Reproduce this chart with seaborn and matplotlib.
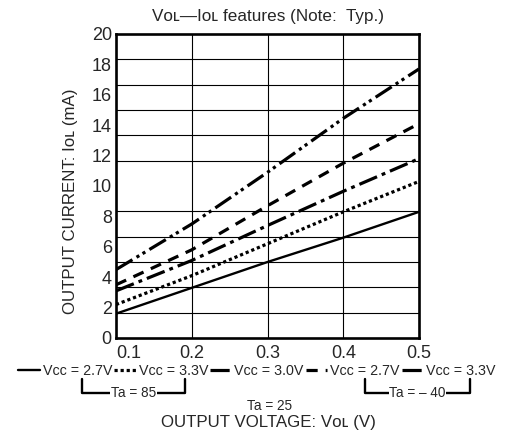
import numpy as np
import pandas as pd
import matplotlib
matplotlib.use("Agg")
import matplotlib.pyplot as plt
from matplotlib.lines import Line2D
import seaborn as sns

sns.set_theme(style="white")
plt.rcParams['font.family'] = ['Liberation Sans', 'DejaVu Sans']

# ---- data ----
vol = [0.1, 0.2, 0.3, 0.4, 0.5]
iol_27_85 = [1.6, 3.3, 5.0, 6.6, 8.3]
iol_33_85 = [2.2, 4.1, 6.2, 8.3, 10.3]
iol_30_25 = [3.1, 5.1, 7.4, 9.65, 11.8]
iol_27_m40 = [3.5, 5.8, 8.7, 11.5, 14.1]
iol_33_m40 = [4.5, 7.5, 10.9, 14.45, 17.7]

series_keys = ["2.7V_85", "3.3V_85", "3.0V_25", "2.7V_-40", "3.3V_-40"]
series_labels = ["Vᴄᴄ = 2.7V", "Vᴄᴄ = 3.3V", "Vᴄᴄ = 3.0V", "Vᴄᴄ = 2.7V", "Vᴄᴄ = 3.3V"]
series_vals = [iol_27_85, iol_33_85, iol_30_25, iol_27_m40, iol_33_m40]
dash_specs = ["", (1, 0.9), (6, 1.6, 1.2, 1.6), (3.5, 2.5), (6, 1.5, 1, 1.2, 1, 1.5)]
line_widths = [1.7, 2.3, 2.3, 2.3, 2.3]

xticks = [0.1, 0.2, 0.3, 0.4, 0.5]
yticks = list(range(0, 21, 2))

rows = []
for key, vals in zip(series_keys, series_vals):
    for x, y in zip(vol, vals):
        rows.append({"VOL": x, "IOL": y, "series": key})
df = pd.DataFrame(rows)

fig = plt.figure(figsize=(5.14, 4.32), dpi=100)
ax = fig.add_axes([116/514, 1-338/432, (419-116)/514, (338-34)/432])

sns.lineplot(data=df, x="VOL", y="IOL", style="series", style_order=series_keys,
             dashes=dict(zip(series_keys, dash_specs)),
             color="black", ax=ax, legend=False, sort=False)
for ln, lw in zip(ax.get_lines(), line_widths):
    ln.set_linewidth(lw)

ax.set_xlim(0.1, 0.5)
ax.set_ylim(0, 20)
ax.set_xticks(xticks)
ax.set_xticklabels([f"{t:.1f}" for t in xticks], fontsize=13)
ax.get_xticklabels()[0].set_ha("left")
ax.set_yticks(yticks)
ax.set_yticklabels([str(t) for t in yticks], fontsize=13)
ax.tick_params(axis="x", length=0, pad=5)
ax.tick_params(axis="y", length=0, pad=3)
ax.set_yticks(np.linspace(0, 20, 13), minor=True)
ax.tick_params(which="minor", length=0)
ax.grid(False)
ax.grid(True, axis="y", which="minor", color="black", lw=0.8)
ax.grid(True, axis="x", which="major", color="black", lw=0.8)
for s in ax.spines.values():
    s.set_color("black")
    s.set_linewidth(1.9)

ax.set_title("Vᴏʟ—Iᴏʟ features (Note:  Typ.)", fontsize=12.3, pad=9)
ax.set_xlabel("")
ax.set_ylabel("OUTPUT CURRENT: Iᴏʟ (mA)", fontsize=12.2)
ax.yaxis.set_label_coords(-0.125, 0.45)

handles = []
for dsh, lw in zip(dash_specs, line_widths):
    h = Line2D([0], [0], color="black", lw=lw)
    if dsh:
        h.set_dashes(dsh)
    handles.append(h)
fig.legend(handles, series_labels, loc="center", bbox_to_anchor=(0.5, 1-371/432), ncol=5,
           frameon=False, fontsize=10.3, handlelength=1.5, handletextpad=0.2,
           columnspacing=0.15, borderaxespad=0, borderpad=0)

def bracket(x1, x2, label):
    yt, yb = 1-379/432, 1-393/432
    fig.add_artist(Line2D([x1/514, x1/514, x2/514, x2/514], [yt, yb, yb, yt],
                          color="black", lw=1.7, transform=fig.transFigure))
    fig.text((x1+x2)/2/514, yb, label, ha="center", va="center", fontsize=9.8,
             bbox=dict(facecolor="white", edgecolor="none", pad=0.3))

bracket(82, 185, "Ta = 85")
bracket(365, 470, "Ta = – 40")
fig.text(270/514, 1-406/432, "Ta = 25", ha="center", va="center", fontsize=9.8)
fig.text(268/514, 1-422/432, "OUTPUT VOLTAGE: Vᴏʟ (V)", ha="center", va="center", fontsize=12.2)

fig.savefig("out.png", dpi=100)
